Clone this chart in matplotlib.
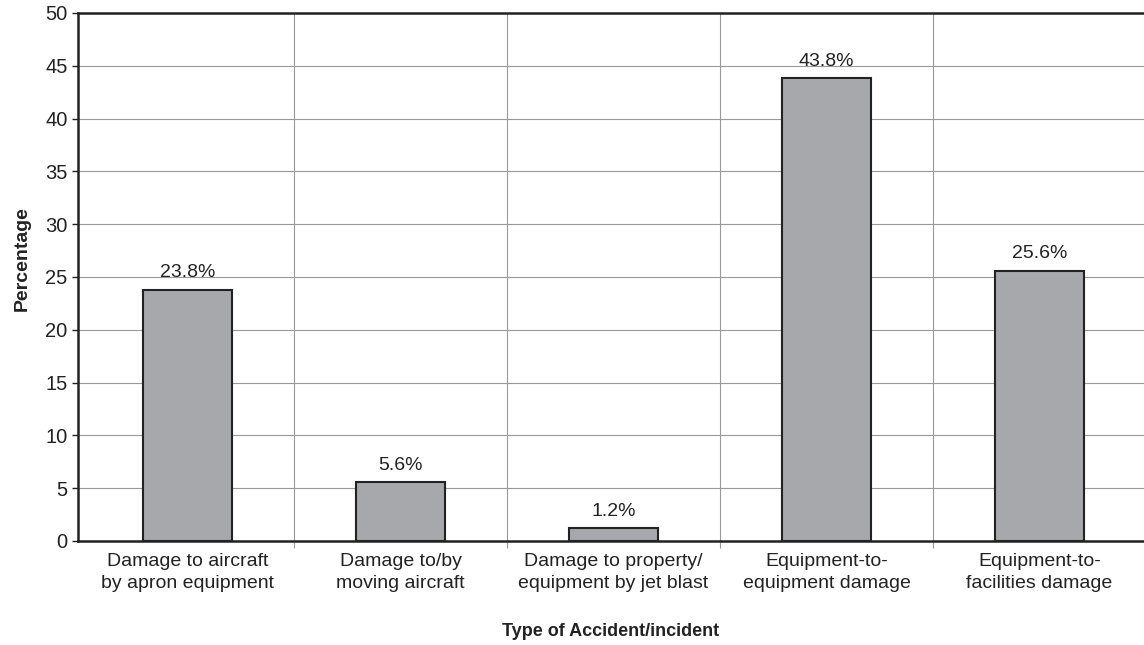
import matplotlib.pyplot as plt
import numpy as np

plt.rcParams['font.family'] = ['Liberation Sans', 'DejaVu Sans']

categories = ["Damage to aircraft\nby apron equipment",
              "Damage to/by\nmoving aircraft",
              "Damage to property/\nequipment by jet blast",
              "Equipment-to-\nequipment damage",
              "Equipment-to-\nfacilities damage"]
percent = [23.8, 5.6, 1.2, 43.8, 25.6]
yticks = [0, 5, 10, 15, 20, 25, 30, 35, 40, 45, 50]

fig = plt.figure(figsize=(11.44, 6.45), dpi=100)
ax = fig.add_axes([78 / 1144, 1 - 541 / 645, 1 - 78 / 1144, (541 - 13) / 645])

x = np.arange(len(categories))
bars = ax.bar(x, percent, width=0.42, color='#a7a8ac', edgecolor='#222222', linewidth=1.5, zorder=3)

for b, v in zip(bars, percent):
    ax.annotate(f"{v}%", (b.get_x() + b.get_width() / 2, v), xytext=(0, 6),
                textcoords='offset points', ha='center', va='bottom',
                fontsize=14, color='#222222')

ax.set_xlim(-0.514, 4.49)
ax.set_ylim(0, 50)
ax.set_yticks(yticks)
ax.set_xticks(x)
ax.set_xticklabels(categories, fontsize=14, color='#222222', linespacing=1.34)
ax.set_xticks(np.arange(0.5, len(categories) - 0.5), minor=True)
ax.tick_params(axis='x', which='major', length=0, pad=9)
ax.tick_params(axis='x', which='minor', length=5, width=0.8, color='#999999', direction='out')
ax.tick_params(axis='y', length=4, width=1, color='#222222', labelsize=14.5, labelcolor='#222222')

ax.grid(axis='y', color='#999999', linewidth=0.8, zorder=0)
ax.grid(axis='x', which='minor', color='#999999', linewidth=0.8, zorder=0)

for s in ['left', 'top', 'bottom']:
    ax.spines[s].set_color('#222222')
    ax.spines[s].set_linewidth(1.8)
ax.spines['right'].set_visible(False)

ax.set_xlabel("Type of Accident/incident", fontsize=13, fontweight='bold', color='#222222')
ax.xaxis.set_label_coords(0.5, -(632 - 541) / 528, transform=ax.transAxes)
ax.xaxis.label.set_va('center')
ax.set_ylabel("Percentage", fontsize=14, fontweight='bold', color='#222222')
ax.yaxis.set_label_coords(-(78 - 22) / 1066, (541 - 259) / 528)
ax.yaxis.label.set_va('center')

fig.savefig("out.png", dpi=100)
